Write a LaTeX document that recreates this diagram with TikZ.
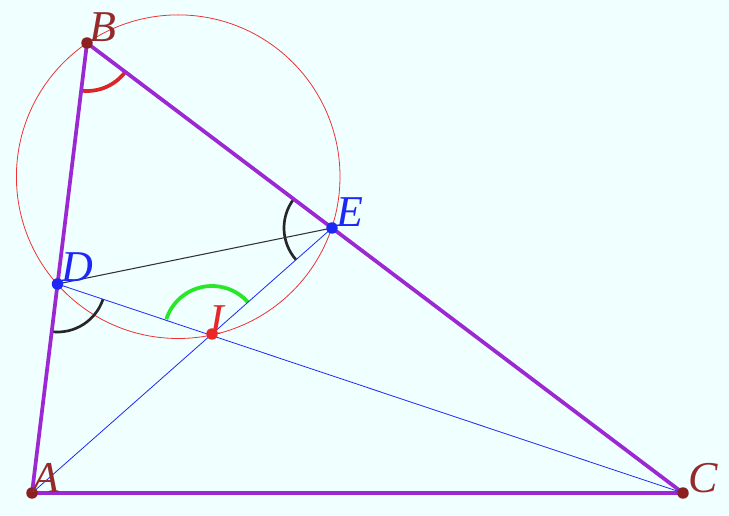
\documentclass[tikz,border=0pt]{standalone}
\usepackage{fontspec}
\setmainfont{Liberation Serif}
\usetikzlibrary{angles}
\definecolor{bgcol}{RGB}{240,255,255}
\definecolor{sidecol}{RGB}{155,40,210}
\definecolor{ptbrown}{RGB}{140,32,32}
\definecolor{lblbrown}{RGB}{150,42,42}
\definecolor{ptblue}{RGB}{30,40,245}
\definecolor{ptred}{RGB}{232,40,40}
\definecolor{circcol}{RGB}{240,50,50}
\definecolor{arcgreen}{RGB}{40,230,40}
\newcommand\ptrad{4.3pt}

\begin{document}
\begin{tikzpicture}[
x=0.75pt,y=-0.75pt,
side/.style={color=sidecol, line width=2.8pt},
thinline/.style={color=ptblue, line width=0.6pt},
lbl/.style={font=\itshape\fontsize{33}{33}\selectfont, inner sep=0pt},
anglemark/.style={draw, line width=2pt, angle radius=36pt}
]
\fill[bgcol] (0,0) rectangle (729,516);
\useasboundingbox (0,0) rectangle (729,516);
% points
\coordinate (A) at (32,493);
\coordinate (B) at (87,43);
\coordinate (C) at (683,493);
\coordinate (D) at (57.5,284);
\coordinate (E) at (332,228);
\coordinate (I) at (212,334);
% circle through B, D, E, I
\draw[circcol, line width=0.6pt] (178.2,176.7) circle (121.35pt);
% angle marks
\pic[anglemark, ptred!95!black, line width=2.8pt] {angle = A--B--C};
\pic[anglemark, arcgreen, line width=2.8pt] {angle = E--I--D};
\pic[anglemark, black!85] {angle = A--D--C};
\pic[anglemark, black!85] {angle = B--E--A};
% triangle
\draw[side] (A) -- (B) -- (C) -- cycle;
%\draw[side] (A) -- (C);
\draw[black!80, line width=0.8pt] (D) -- (E);
\draw[thinline] (D) -- (C);
\draw[thinline] (A) -- (E);
% dots
\foreach \p/\c in {A/ptbrown,B/ptbrown,C/ptbrown,D/ptblue,E/ptblue,I/ptred}
{
\fill[\c] (\p) circle (\ptrad);
}
% labels
\node[lbl, lblbrown] (labA) at (46,478) {A};
\node[lbl, lblbrown] (labB) at (103,27) {B};
\node[lbl, lblbrown] (labC) at (703,478) {C};
\node[lbl, ptblue] (labD) at (77,267) {D};
\node[lbl, ptblue] (labE) at (350,212) {E};
\node[lbl, ptred] (labI) at (217,320) {I};
\end{tikzpicture}
\end{document}
